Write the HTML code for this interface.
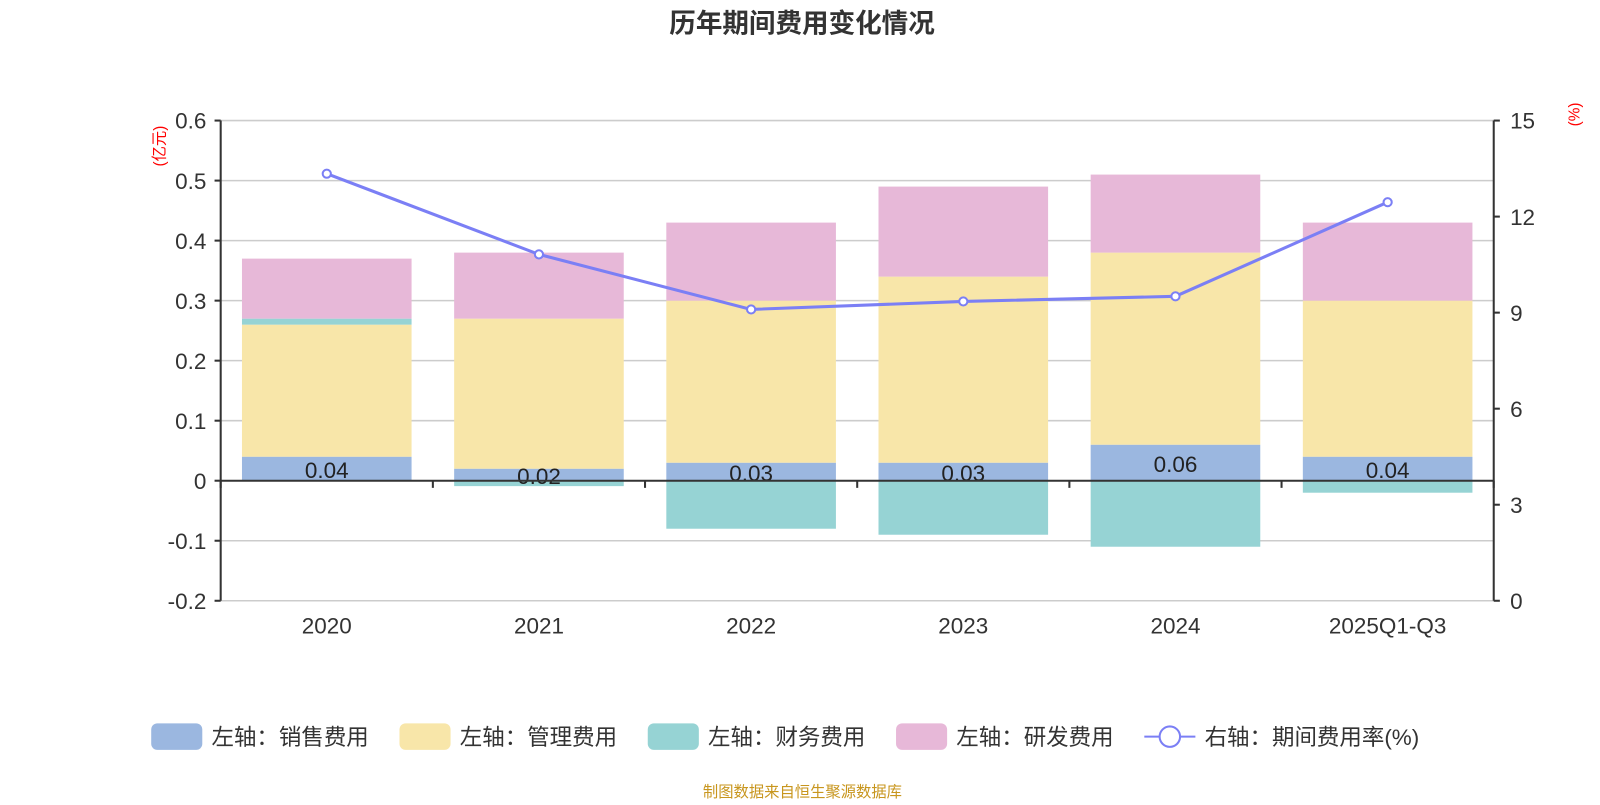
<!DOCTYPE html>
<html><head><meta charset="utf-8"><style>
body{margin:0;background:#fff;font-family:"Liberation Sans","Noto Sans CJK SC",sans-serif;}
svg text{font-family:"Liberation Sans","Noto Sans CJK SC",sans-serif;}
</style></head><body>
<svg id="c" width="1600" height="800" xmlns="http://www.w3.org/2000/svg">
<g transform="scale(1.0217)">
<text x="785" y="32" text-anchor="middle" font-size="26" font-weight="bold" fill="#333">历年期间费用变化情况</text>
<text x="688" y="780" font-size="15" fill="#c8961e">制图数据来自恒生聚源数据库</text>
<g id="g"></g>
</g>
</svg>
<script>
const categories=["2020","2021","2022","2023","2024","2025Q1-Q3"];
const sales=[0.04,0.02,0.03,0.03,0.06,0.04];
const mgmt=[0.22,0.25,0.27,0.31,0.32,0.26];
const fin=[0.01,-0.009,-0.08,-0.09,-0.11,-0.02];
const rnd=[0.10,0.11,0.13,0.15,0.13,0.13];
const rate=[13.34,10.82,9.10,9.35,9.51,12.45];
const leftTicks=[0.6,0.5,0.4,0.3,0.2,0.1,0,-0.1,-0.2];
const rightTicks=[15,12,9,6,3,0];
const X0=216,X1=1462,YT=118,YB=588;
const yL=v=>YT+(0.6-v)/0.8*(YB-YT);
const yR=v=>YB-v/15*(YB-YT);
const bw=(X1-X0)/categories.length;
const xC=i=>X0+bw*(i+0.5);
const g=document.getElementById('g');
const NS="http://www.w3.org/2000/svg";
function mk(t,a,txt){const e=document.createElementNS(NS,t);for(const k in a)e.setAttribute(k,a[k]);if(txt!=null)e.textContent=txt;g.appendChild(e);return e;}
leftTicks.forEach((v,i)=>{
 const y=yL(v);
 const l=mk('line',{x1:X0,x2:X1,y1:y,y2:y,stroke:'#ccc','stroke-width':1.5});
 
 
 mk('line',{x1:X0-6,x2:X0,y1:y,y2:y,stroke:'#333','stroke-width':2});
 const t=mk('text',{x:X0-14,y:y+8,'text-anchor':'end','font-size':22,fill:'#333'},String(v));
 
 
});
rightTicks.forEach(v=>{
 const y=yR(v);
 mk('line',{x1:X1,x2:X1+6,y1:y,y2:y,stroke:'#333','stroke-width':2});
 const t=mk('text',{x:X1+16,y:y+8,'font-size':22,fill:'#333'},String(v));
 
 
});
const colors=['#9bb7e0','#f8e6a9','#96d3d4','#e7b8d8'];
const series=[sales,mgmt,fin,rnd];
categories.forEach((c,i)=>{
 let pos=0,neg=0;const x=xC(i)-83;
 series.forEach((s,k)=>{
  const v=s[i];let a,b;
  if(v>=0){a=pos;b=pos+v;pos=b;}else{a=neg;b=neg+v;neg=b;}
  const r=mk('rect',{x:x,width:166,y:Math.min(yL(a),yL(b)),height:Math.abs(yL(a)-yL(b)),fill:colors[k]});
  
  
 });
 const t=mk('text',{x:xC(i),y:yL(sales[i]/2)+9,'text-anchor':'middle','font-size':22,fill:'#222'},sales[i].toFixed(2));
 
 
 const cl=mk('text',{x:xC(i),y:620,'text-anchor':'middle','font-size':22,fill:'#333'},c);
 
 
});
mk('line',{x1:X0,x2:X0,y1:YT,y2:YB,stroke:'#333','stroke-width':2});
mk('line',{x1:X1,x2:X1,y1:YT,y2:YB,stroke:'#333','stroke-width':2});
mk('line',{x1:X0,x2:X1,y1:yL(0),y2:yL(0),stroke:'#333','stroke-width':2});
for(let i=0;i<=categories.length;i++)mk('line',{x1:X0+bw*i,x2:X0+bw*i,y1:yL(0),y2:yL(0)+7,stroke:'#333','stroke-width':2});
const pts=rate.map((v,i)=>xC(i)+','+yR(v)).join(' ');
const pl=mk('polyline',{points:pts,fill:'none',stroke:'#7b7ff5','stroke-width':3});


rate.forEach((v,i)=>{
 const p=mk('circle',{cx:xC(i),cy:yR(v),r:4,fill:'#fff',stroke:'#7b7ff5','stroke-width':2});
 
 
});
const u1=mk('text',{transform:'translate(161,143) rotate(-90)','text-anchor':'middle','font-size':15,fill:'#f00'},'(亿元)');


const u2=mk('text',{transform:'translate(1546,112) rotate(-90)','text-anchor':'middle','font-size':15,fill:'#f00'},'(%)');


const leg=[['左轴：销售费用',148],['左轴：管理费用',391],['左轴：财务费用',634],['左轴：研发费用',877]];
leg.forEach((l,k)=>{
 const r=mk('rect',{x:l[1],y:708,width:50,height:26,rx:6,fill:colors[k]});
 
 
 const t=mk('text',{x:l[1]+59,y:729,'font-size':22,fill:'#333'},l[0]);
 
 
});
mk('line',{x1:1120,x2:1170,y1:721,y2:721,stroke:'#7b7ff5','stroke-width':2});
const lc=mk('circle',{cx:1145,cy:721,r:10,fill:'#fff',stroke:'#7b7ff5','stroke-width':2});


const lt=mk('text',{x:1179,y:729,'font-size':22,fill:'#333'},'右轴：期间费用率(%)');


</script>
</body></html>
